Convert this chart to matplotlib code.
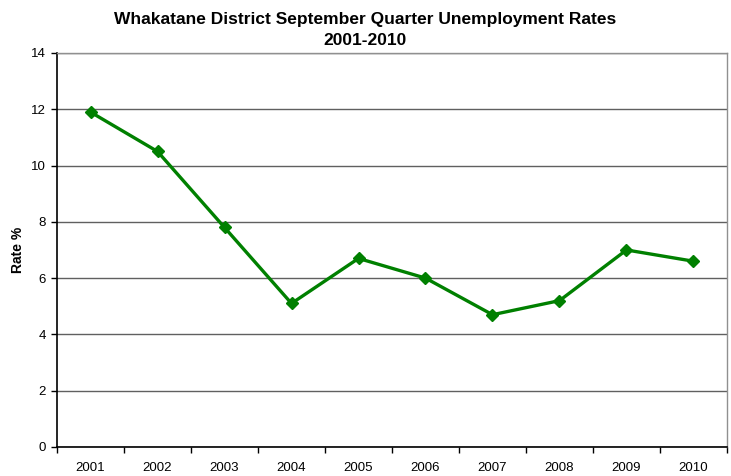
import matplotlib.pyplot as plt
import numpy as np

# data
years = ['2001', '2002', '2003', '2004', '2005', '2006', '2007', '2008', '2009', '2010']
rates = [11.9, 10.5, 7.8, 5.1, 6.7, 6.0, 4.7, 5.2, 7.0, 6.6]
y_ticks = [0, 2, 4, 6, 8, 10, 12, 14]

plt.rcParams['font.family'] = ['Liberation Sans', 'DejaVu Sans']

fig = plt.figure(figsize=(7.31, 4.76), dpi=100)
ax = fig.add_axes([0.078, 0.061, 0.9165, 0.8277])

x = np.arange(len(years))
ax.plot(x, rates, color='#008000', linewidth=2.4, marker='D', markersize=6.5, zorder=3)

ax.set_xlim(-0.5, len(years) - 0.5)
ax.set_ylim(0, 14)
ax.set_yticks(y_ticks)
ax.set_xticks(x)
ax.set_xticklabels(years)
# category boundary ticks like a spreadsheet chart
ax.set_xticks(np.arange(-0.5, len(years)), minor=True)
ax.tick_params(axis='x', which='major', length=0, pad=11, labelsize=9.5)
ax.tick_params(axis='x', which='minor', length=4, direction='out', width=1)
ax.tick_params(axis='y', length=4, direction='out', width=1, labelsize=9.5, pad=4)

ax.yaxis.grid(True, color='#606060', linewidth=1)
ax.set_axisbelow(True)
for side in ['left', 'bottom']:
    ax.spines[side].set_color('black')
    ax.spines[side].set_linewidth(1.2)
for side in ['top', 'right']:
    ax.spines[side].set_color('#909090')
    ax.spines[side].set_linewidth(1)

ax.set_ylabel('Rate %', fontsize=10, fontweight='bold', labelpad=4)
# title is centred on the figure, not on the plot area
fig.text(0.5, 0.974, 'Whakatane District September Quarter Unemployment Rates\n2001-2010',
         ha='center', va='top', fontsize=12.5, fontweight='bold', linespacing=1.5)

fig.savefig('out.png', dpi=100)
